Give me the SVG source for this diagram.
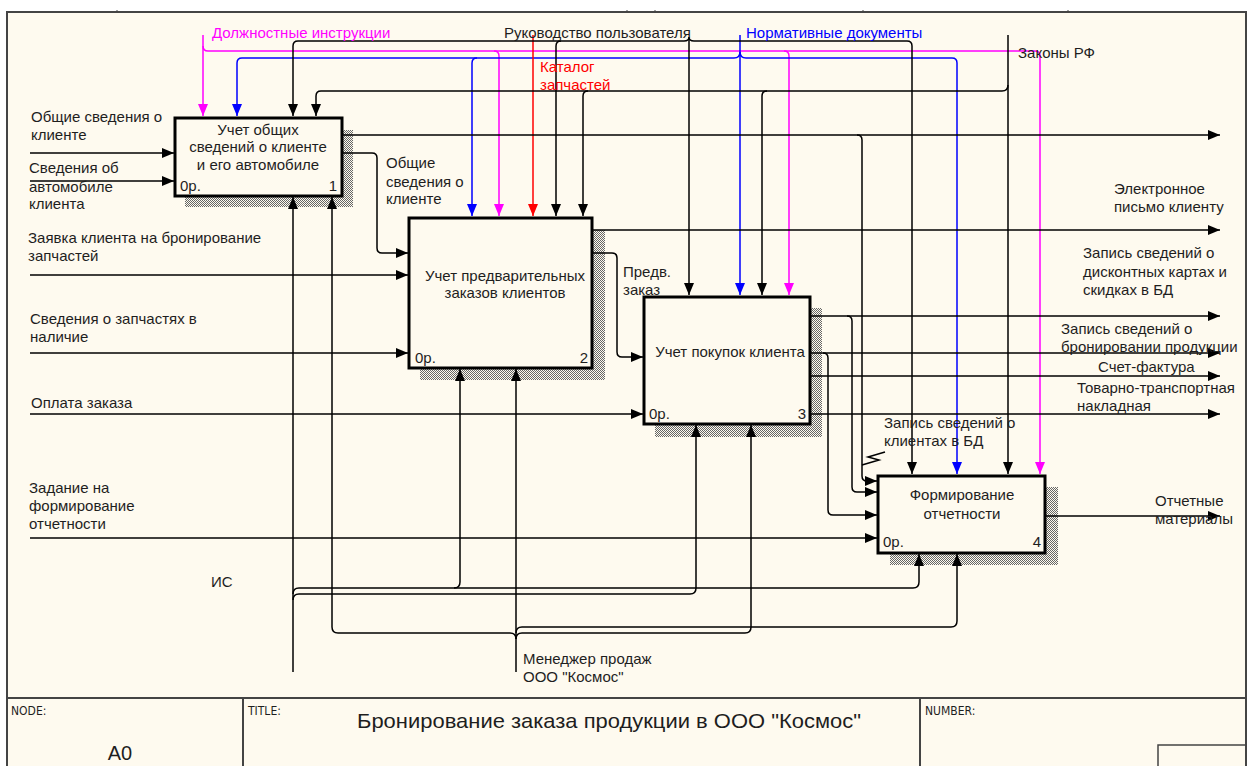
<svg xmlns="http://www.w3.org/2000/svg" width="1251" height="766" viewBox="0 0 1251 766">
<defs>
<style>
.t{font-family:"Liberation Sans",Arial,sans-serif;font-size:15px;fill:#1e1e1e}
.c{text-anchor:middle}
.e{text-anchor:end}
.sm{font-family:"Liberation Sans Narrow","DejaVu Sans Condensed","Liberation Sans",sans-serif;font-size:12px;fill:#1e1e1e}
.box{fill:#FEFAEF;stroke:#000;stroke-width:3}
.sh{fill:url(#hatch)}
.k{fill:none;stroke:#000;stroke-width:1.5}
.ka{fill:none;stroke:#000;stroke-width:1.5;marker-end:url(#ab)}
.m{fill:none;stroke:#FF00FF;stroke-width:1.5}
.ma{fill:none;stroke:#FF00FF;stroke-width:1.5;marker-end:url(#am)}
.b{fill:none;stroke:#0000FF;stroke-width:1.5}
.ba{fill:none;stroke:#0000FF;stroke-width:1.5;marker-end:url(#abl)}
.ra{fill:none;stroke:#FF0000;stroke-width:1.5;marker-end:url(#ar)}
.fr{fill:none;stroke:#444;stroke-width:2}
</style>
<pattern id="hatch" width="2" height="2" patternUnits="userSpaceOnUse">
<rect width="2" height="2" fill="#FEFAEF"/>
<rect x="0" y="0" width="1" height="1" fill="#666"/>
<rect x="1" y="1" width="1" height="1" fill="#666"/>
</pattern>
<marker id="ab" viewBox="0 0 12 10" refX="12" refY="5" markerWidth="12" markerHeight="10" markerUnits="userSpaceOnUse" orient="auto"><path d="M0,0 L12,5 L0,10 z" fill="#000"/></marker>
<marker id="am" viewBox="0 0 12 10" refX="12" refY="5" markerWidth="12" markerHeight="10" markerUnits="userSpaceOnUse" orient="auto"><path d="M0,0 L12,5 L0,10 z" fill="#FF00FF"/></marker>
<marker id="abl" viewBox="0 0 12 10" refX="12" refY="5" markerWidth="12" markerHeight="10" markerUnits="userSpaceOnUse" orient="auto"><path d="M0,0 L12,5 L0,10 z" fill="#0000FF"/></marker>
<marker id="ar" viewBox="0 0 12 10" refX="12" refY="5" markerWidth="12" markerHeight="10" markerUnits="userSpaceOnUse" orient="auto"><path d="M0,0 L12,5 L0,10 z" fill="#FF0000"/></marker>
</defs>

<rect x="0" y="0" width="1251" height="766" fill="#FFFFFF"/>
<rect x="7" y="12" width="1239" height="760" fill="#FEFAEF"/>
<g id="frame">
<path class="fr" d="M7,772 L7,12 L1246,12 L1246,772"/>
<path d="M117,10 L117,12 M627,10 L627,12 M655,10 L655,12 M863,10 L863,12 M1068,10 L1068,12" stroke="#444" stroke-width="1"/>
</g>

<g id="box1">
<rect class="sh" x="185" y="130" width="168" height="77"/>
<rect class="box" x="175" y="118" width="167" height="78"/>
<text class="t c" x="258" y="135">Учет общих</text>
<text class="t c" x="258" y="152">сведений о клиенте</text>
<text class="t c" x="258" y="170">и его автомобиле</text>
<text class="t" x="180" y="191">0р.</text>
<text class="t e" x="337" y="191">1</text>
</g>

<g id="box2">
<rect class="sh" x="420" y="230" width="185" height="150"/>
<rect class="box" x="409" y="218" width="183" height="150"/>
<text class="t c" x="505" y="281">Учет предварительных</text>
<text class="t c" x="505" y="298">заказов клиентов</text>
<text class="t" x="415" y="363">0р.</text>
<text class="t e" x="588" y="363">2</text>
</g>

<g id="box3">
<rect class="sh" x="655" y="308" width="167" height="129"/>
<rect class="box" x="644" y="297" width="166" height="127"/>
<text class="t c" x="730" y="357">Учет покупок клиента</text>
<text class="t" x="649" y="419">0р.</text>
<text class="t e" x="806" y="419">3</text>
</g>

<g id="box4">
<rect class="sh" x="890" y="487" width="168" height="78"/>
<rect class="box" x="878" y="476" width="167" height="77"/>
<text class="t c" x="962" y="500">Формирование</text>
<text class="t c" x="962" y="519">отчетности</text>
<text class="t" x="883" y="547">0р.</text>
<text class="t e" x="1041" y="547">4</text>
</g>

<g id="connectors">
<path class="ma" d="M203,35 L203,116"/>
<path class="ma" d="M203,46 Q203,51 208,51 L494,51 Q499,51 499,56 L499,216"/>
<path class="ma" d="M494,51 L784,51 Q789,51 789,56 L789,295"/>
<path class="ma" d="M784,51 L1035,51 Q1040,51 1040,56 L1040,474"/>
<path class="ba" d="M740,35 L740,295"/>
<path class="ba" d="M740,52 Q740,58 734,58 L242,58 Q237,58 237,63 L237,116"/>
<path class="ba" d="M477,58 Q472,58 472,63 L472,216"/>
<path class="ba" d="M740,52 Q740,58 746,58 L952,58 Q957,58 957,63 L957,474"/>
<path class="ra" d="M533,35 L533,216"/>
<path class="ka" d="M689,37 L689,295"/>
<path class="ka" d="M689,37 Q689,41 684,41 L298,41 Q293,41 293,46 L293,116"/>
<path class="ka" d="M561,41 Q556,41 556,46 L556,216"/>
<path class="ka" d="M689,37 Q689,41 694,41 L907,41 Q912,41 912,46 L912,474"/>
<path class="ka" d="M1008,35 L1008,474"/>
<path class="ka" d="M1008,85 Q1008,91 1002,91 L321,91 Q316,91 316,96 L316,116"/>
<path class="ka" d="M588,91 Q583,91 583,96 L583,216"/>
<path class="ka" d="M767,91 Q762,91 762,96 L762,295"/>
<path class="ka" d="M30,153 L174,153"/>
<path class="ka" d="M30,181 L174,181"/>
<path class="ka" d="M30,275 L408,275"/>
<path class="ka" d="M30,353 L408,353"/>
<path class="ka" d="M30,414 L643,414"/>
<path class="ka" d="M30,538 L877,538"/>
<path class="ka" d="M343,135 L1220,135"/>
<path class="ka" d="M857,135 Q862,135 862,140 L862,476 Q862,481 867,481 L877,481"/>
<path class="ka" d="M343,153 L372,153 Q377,153 377,158 L377,248 Q377,253 382,253 L408,253"/>
<path class="ka" d="M593,230 L1220,230"/>
<path class="ka" d="M593,253 L612,253 Q617,253 617,258 L617,352 Q617,357 622,357 L643,357"/>
<path class="ka" d="M811,316 L1220,316"/>
<path class="ka" d="M847,316 Q852,316 852,321 L852,487 Q852,492 857,492 L877,492"/>
<path class="ka" d="M811,353 L1220,353"/>
<path class="ka" d="M823,353 Q828,353 828,358 L828,510 Q828,515 833,515 L877,515"/>
<path class="ka" d="M811,376 L1220,376"/>
<path class="ka" d="M811,414 L1220,414"/>
<path class="ka" d="M1046,516 L1220,516"/>
<path class="ka" d="M293,672 L293,197"/>
<path class="ka" d="M293,600 Q293,594 299,594 L690,594 Q696,594 696,588 L696,425"/>
<path class="ka" d="M293,594 Q293,588 299,588 L913,588 Q919,588 919,582 L919,554"/>
<path class="ka" d="M454,588 Q460,588 460,582 L460,369"/>
<path class="ka" d="M516,672 L516,369"/>
<path class="ka" d="M516,639 Q516,633 510,633 L338,633 Q332,633 332,627 L332,197"/>
<path class="ka" d="M516,639 Q516,633 522,633 L745,633 Q751,633 751,627 L751,425"/>
<path class="ka" d="M516,633 Q516,627 522,627 L951,627 Q957,627 957,621 L957,554"/>
<path class="k" stroke-width="1" d="M885,452 L868,457 L879,460 L862,465"/>
</g>

<g id="labels">
<text class="t" x="212" y="38" style="fill:#FF00FF">Должностные инструкции</text>
<text class="t" x="504" y="38">Руководство пользователя</text>
<text class="t" x="746" y="38" style="fill:#0000FF">Нормативные документы</text>
<text class="t" x="540" y="72" style="fill:#FF0000">Каталог</text>
<text class="t" x="540" y="90" style="fill:#FF0000">запчастей</text>
<text class="t" x="1018" y="58">Законы РФ</text>
<text class="t" x="31" y="122">Общие сведения о</text>
<text class="t" x="31" y="140">клиенте</text>
<text class="t" x="29" y="173">Сведения об</text>
<text class="t" x="29" y="192">автомобиле</text>
<text class="t" x="29" y="209">клиента</text>
<text class="t" x="386" y="168">Общие</text>
<text class="t" x="386" y="187">сведения о</text>
<text class="t" x="386" y="204">клиенте</text>
<text class="t" x="28" y="243">Заявка клиента на бронирование</text>
<text class="t" x="28" y="261">запчастей</text>
<text class="t" x="30" y="324">Сведения о запчастях в</text>
<text class="t" x="30" y="342">наличие</text>
<text class="t" x="31" y="408">Оплата заказа</text>
<text class="t" x="29" y="493">Задание на</text>
<text class="t" x="29" y="511">формирование</text>
<text class="t" x="29" y="529">отчетности</text>
<text class="t" x="211" y="587">ИС</text>
<text class="t" x="523" y="664">Менеджер продаж</text>
<text class="t" x="523" y="682">ООО "Космос"</text>
<text class="t" x="1114" y="194">Электронное</text>
<text class="t" x="1114" y="212">письмо клиенту</text>
<text class="t" x="623" y="277">Предв.</text>
<text class="t" x="623" y="295">заказ</text>
<text class="t" x="1083" y="258">Запись сведений о</text>
<text class="t" x="1083" y="277">дисконтных картах и</text>
<text class="t" x="1083" y="295">скидках в БД</text>
<text class="t" x="1061" y="334">Запись сведений о</text>
<text class="t" x="1061" y="352">бронировании продукции</text>
<text class="t" x="1098" y="372">Счет-фактура</text>
<text class="t" x="1077" y="393">Товарно-транспортная</text>
<text class="t" x="1077" y="411">накладная</text>
<text class="t" x="884" y="428">Запись сведений о</text>
<text class="t" x="884" y="446">клиентах в БД</text>
<text class="t" x="1155" y="506">Отчетные</text>
<text class="t" x="1155" y="524">материалы</text>
</g>

<g id="footer">
<path class="fr" d="M7,698 L1246,698 M243,698 L243,766 M920,698 L920,766"/>
<rect x="1158" y="745" width="88" height="24" fill="none" stroke="#444" stroke-width="1.5"/>
<text class="sm" x="11" y="715">NODE:</text>
<text class="sm" x="248" y="715">TITLE:</text>
<text class="sm" x="925" y="715">NUMBER:</text>
<text x="120" y="760" style="font-family:'Liberation Sans Narrow','Liberation Sans',sans-serif;font-size:20px;fill:#1e1e1e" text-anchor="middle">A0</text>
<text x="357" y="728" textLength="504" lengthAdjust="spacingAndGlyphs" style="font-family:'Liberation Sans Narrow','Liberation Sans',sans-serif;font-size:21px;fill:#1e1e1e">Бронирование заказа продукции в ООО "Космос"</text>
</g>
</svg>
